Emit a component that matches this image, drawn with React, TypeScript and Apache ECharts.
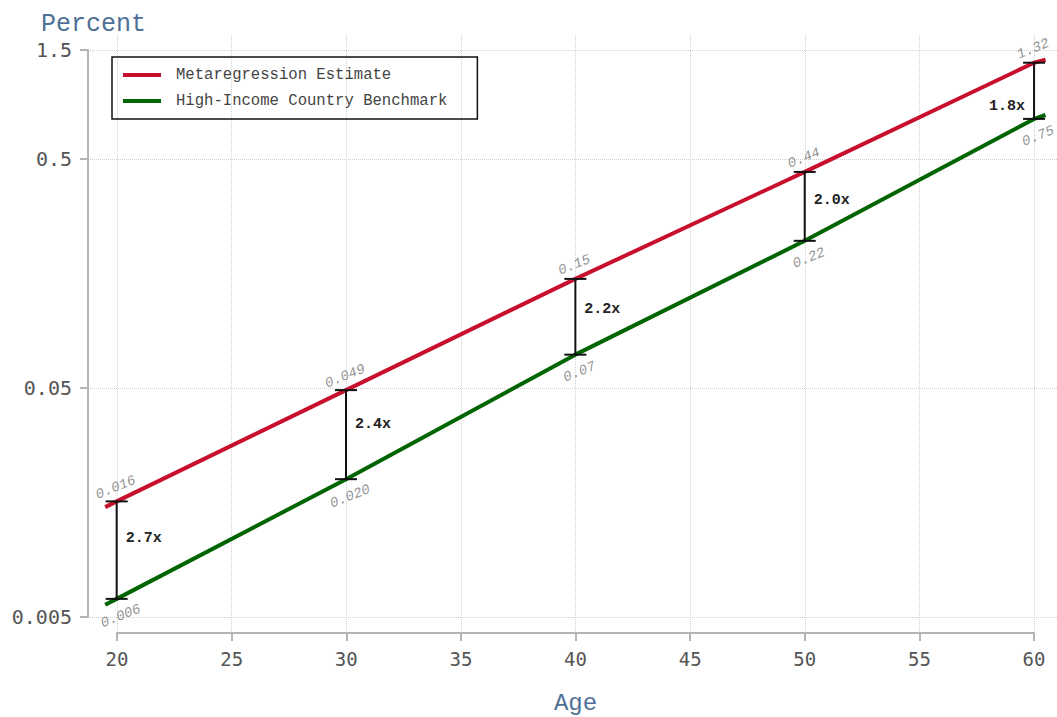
import React, { useEffect, useRef } from "react";
import * as echarts from "echarts";

// ---- data ----
const ages = [20, 30, 40, 50, 60];
const lineAges = [19.5, 20, 30, 40, 50, 60, 60.5];
const metaLine = [0.0151, 0.016, 0.049, 0.15, 0.44, 1.32, 1.36];
const benchLine = [0.00565, 0.006, 0.02, 0.07, 0.22, 0.75, 0.78];
const metaValues = [0.016, 0.049, 0.15, 0.44, 1.32];
const benchValues = [0.006, 0.02, 0.07, 0.22, 0.75];
const metaLabels = ["0.016", "0.049", "0.15", "0.44", "1.32"];
const benchLabels = ["0.006", "0.020", "0.07", "0.22", "0.75"];
const ratioLabels = ["2.7x", "2.4x", "2.2x", "2.0x", "1.8x"];
const seriesNames = ["Metaregression Estimate", "High-Income Country Benchmark"];

const MONO = '"Liberation Mono", "DejaVu Sans Mono", monospace';
const TICKFONT = '"DejaVu Sans Mono", "Liberation Mono", monospace';
const RED = "#c8102e";
const GREEN = "#006400";
const AXIS = "#b4b4b4";
const TITLE = "#4e7096";

export default function App() {
  const ref = useRef<HTMLDivElement>(null);
  useEffect(() => {
    document.body.style.margin = "0";
    const chart = echarts.init(ref.current!, undefined, { renderer: "svg" });
    const valueLabel = (labels: string[], offset: number[]) => ({
      show: true,
      position: "inside",
      offset,
      rotate: 22,
      color: "#767676",
      fontStyle: "italic",
      fontSize: 14,
      fontFamily: MONO,
      formatter: (p: any) => labels[p.dataIndex],
    });
    chart.setOption({
      animation: false,
      title: {
        text: "Percent",
        left: 36,
        top: 7,
        textStyle: { fontSize: 25, fontWeight: "normal", color: TITLE, fontFamily: MONO },
      },
      legend: {
        left: 112,
        top: 57,
        orient: "vertical",
        borderColor: "#111",
        borderWidth: 1.5,
        padding: [9, 30, 9, 11],
        itemWidth: 38,
        itemHeight: 4,
        itemGap: 8,
        icon: "rect",
        data: seriesNames,
        textStyle: { fontSize: 15.6, fontFamily: MONO, color: "#444", lineHeight: 18, padding: [0, 0, 0, 10] },
      },
      grid: [
        { left: 88, right: 0, top: 50, bottom: 100, outerBoundsMode: "none" },
        { left: 117, right: 23, top: 35, bottom: 84, outerBoundsMode: "none" },
      ],
      xAxis: [
        { type: "value", gridIndex: 0, min: 18.75, max: 61, show: false },
        {
          type: "value",
          gridIndex: 1,
          min: 20,
          max: 60,
          interval: 5,
          axisLine: { show: true, lineStyle: { color: AXIS, width: 2 } },
          axisTick: { show: true, length: 8, lineStyle: { color: AXIS, width: 2 } },
          axisLabel: { fontSize: 19, color: "#555", margin: 16, fontFamily: TICKFONT },
          splitLine: { show: true, lineStyle: { type: "dotted", color: "#cfcfcf", width: 1 } },
          name: "Age",
          nameLocation: "middle",
          nameGap: 60,
          nameTextStyle: { fontSize: 24, lineHeight: 20, color: TITLE, fontFamily: MONO },
        },
      ],
      yAxis: [
        {
          type: "log",
          logBase: 10,
          gridIndex: 0,
          min: 0.005,
          max: 1.5,
          interval: 1,
          axisLine: { show: true, lineStyle: { color: AXIS, width: 2 } },
          axisTick: { show: true, length: 8, lineStyle: { color: AXIS, width: 2 } },
          axisLabel: {
            fontSize: 20,
            color: "#555",
            margin: 16,
            fontFamily: TICKFONT,
            formatter: (v: number) => String(Number(v.toPrecision(2))),
          },
          splitLine: { show: true, lineStyle: { type: "dotted", color: "#cfcfcf", width: 1 } },
        },
        { type: "value", gridIndex: 1, show: false, min: 0, max: 1 },
      ],
      series: [
        {
          name: seriesNames[0],
          type: "line",
          xAxisIndex: 0,
          yAxisIndex: 0,
          data: lineAges.map((a, i) => [a, metaLine[i]]),
          showSymbol: false,
          lineStyle: { color: RED, width: 4 },
          itemStyle: { color: RED },
          z: 2,
        },
        {
          name: seriesNames[1],
          type: "line",
          xAxisIndex: 0,
          yAxisIndex: 0,
          data: lineAges.map((a, i) => [a, benchLine[i]]),
          showSymbol: false,
          lineStyle: { color: GREEN, width: 4 },
          itemStyle: { color: GREEN },
          z: 2,
        },
        {
          type: "custom",
          xAxisIndex: 0,
          yAxisIndex: 0,
          z: 4,
          clip: false,
          silent: true,
          data: ages.map((a, i) => [a, metaValues[i], benchValues[i]]),
          renderItem: (params: any, api: any) => {
            const x = api.value(0);
            const hi = api.value(1);
            const lo = api.value(2);
            const top = api.coord([x, hi]);
            const bot = api.coord([x, lo]);
            const mid = api.coord([x, (hi + lo) / 2]);
            const i = params.dataIndex;
            const left = i === ages.length - 1;
            const cap = 11;
            const st = { stroke: "#111", lineWidth: 2 };
            return {
              type: "group",
              children: [
                { type: "line", shape: { x1: top[0], y1: top[1], x2: bot[0], y2: bot[1] }, style: st },
                { type: "line", shape: { x1: top[0] - cap, y1: top[1], x2: top[0] + cap, y2: top[1] }, style: st },
                { type: "line", shape: { x1: bot[0] - cap, y1: bot[1], x2: bot[0] + cap, y2: bot[1] }, style: st },
                {
                  type: "text",
                  x: left ? top[0] - 9 : top[0] + 9,
                  y: left ? mid[1] + 20 : mid[1],
                  style: {
                    text: ratioLabels[i],
                    fill: "#222",
                    font: 'bold 15px "Liberation Mono", monospace',
                    align: left ? "right" : "left",
                    verticalAlign: "middle",
                  },
                },
              ],
            };
          },
        },
        {
          type: "scatter",
          xAxisIndex: 0,
          yAxisIndex: 0,
          silent: true,
          symbolSize: 1,
          itemStyle: { color: "transparent" },
          data: ages.map((a, i) => [a, metaValues[i]]),
          label: valueLabel(metaLabels, [4.3, -13.4]),
          z: 5,
        },
        {
          type: "scatter",
          xAxisIndex: 0,
          yAxisIndex: 0,
          silent: true,
          symbolSize: 1,
          itemStyle: { color: "transparent" },
          data: ages.map((a, i) => [a, benchValues[i]]),
          label: valueLabel(benchLabels, [-2.7, 17.3]),
          z: 5,
        },
      ],
    });
    return () => chart.dispose();
  }, []);
  return <div ref={ref} style={{ width: 1057, height: 717 }} />;
}
